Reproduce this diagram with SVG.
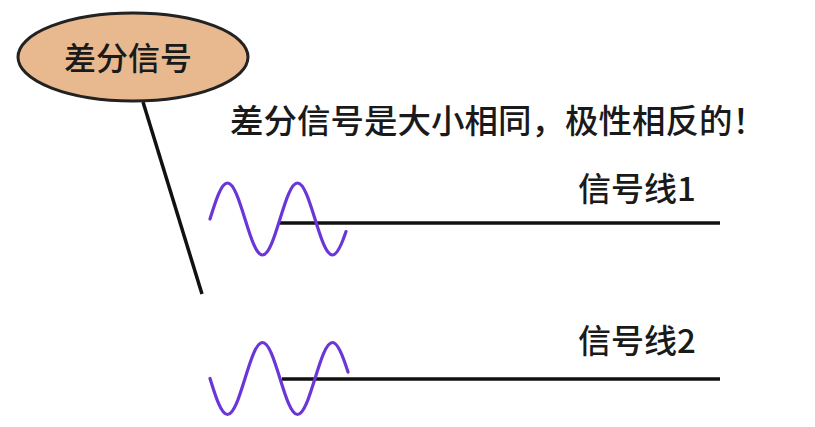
<svg xmlns="http://www.w3.org/2000/svg" width="815" height="427" viewBox="0 0 815 427">
<style>
  .txt { font-family: "Noto Sans CJK SC", "Noto Sans", sans-serif; fill: #1a1a1a; font-weight: 500; }
  .wave { fill: none; stroke: #6a36d8; stroke-width: 3.2; stroke-linecap: round; }
  .wire { stroke: #111; stroke-width: 3.5; fill: none; }
</style>
<rect width="815" height="427" fill="#ffffff"/>
<g id="connectors">
  <line class="wire" x1="143" y1="102" x2="202" y2="294"/>
</g>
<g id="node-diff">
  <ellipse cx="133" cy="57" rx="115" ry="44" fill="#e8b98e" stroke="#222" stroke-width="3"/>
  <text class="txt" x="128" y="70" font-size="32" text-anchor="middle">差分信号</text>
</g>
<g id="title">
  <text class="txt" x="230" y="133" font-size="33.5">差分信号是大小相同，极性相反的！</text>
</g>
<g id="signal1">
  <line class="wire" x1="280" y1="223" x2="720" y2="223"/>
  <path class="wave" d="M210,219 C215.71,200.56 221.19,183 227.5,183 C233.81,183 239.29,200.56 245,219 C250.71,237.44 256.19,255 262.5,255 C268.81,255 274.29,237.44 280,219 C285.71,200.56 291.19,183 297.5,183 C303.81,183 309.29,200.56 315,219 C320.71,237.44 326.19,255 332.5,255 C337,255 341.5,245.2 346,231.6"/>
  <text class="txt" x="578" y="201" font-size="33">信号线1</text>
</g>
<g id="signal2">
  <line class="wire" x1="282" y1="379" x2="720" y2="379"/>
  <path class="wave" d="M210,378.5 C215.71,396.94 221.19,414.5 227.5,414.5 C233.81,414.5 239.29,396.94 245,378.5 C250.71,360.06 256.19,342.5 262.5,342.5 C268.81,342.5 274.29,360.06 280,378.5 C285.71,396.94 291.19,414.5 297.5,414.5 C303.81,414.5 309.29,396.94 315,378.5 C320.71,360.06 326.19,342.5 332.5,342.5 C337.7,342.5 342.8,355.6 348,372.1"/>
  <text class="txt" x="578" y="353" font-size="33">信号线2</text>
</g>
</svg>
